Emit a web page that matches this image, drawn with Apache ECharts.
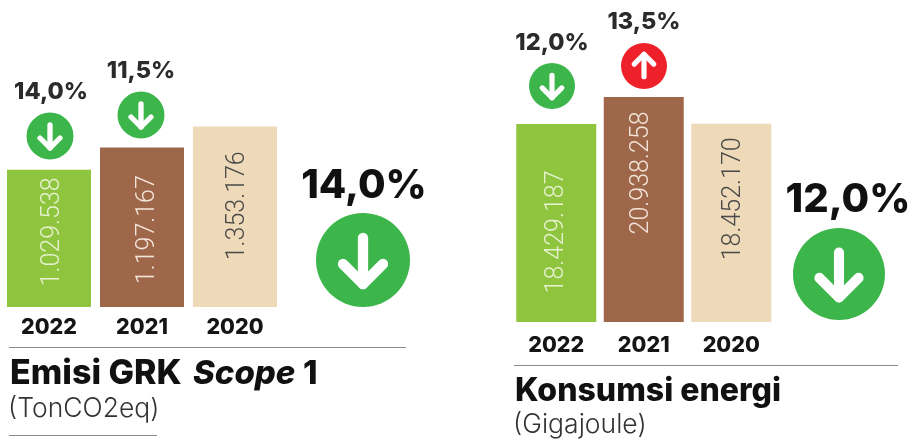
<!DOCTYPE html>
<html><head><meta charset="utf-8">
<style>html,body{margin:0;padding:0;background:#fff}#c{width:911px;height:443px}</style>
<script src="https://cdn.jsdelivr.net/npm/echarts@6/dist/echarts.min.js"></script>
</head><body><div id="c"></div>
<script>
const years = ['2022', '2021', '2020'];
const emisi = [1029538, 1197167, 1353176];
const energi = [18429187, 20938258, 18452170];
const emisiLabels = ['1.029.538', '1.197.167', '1.353.176'];
const energiLabels = ['18.429.187', '20.938.258', '18.452.170'];
const emisiChange = ['14,0%', '11,5%'];
const energiChange = ['12,0%', '13,5%'];
const emisiTotal = '14,0%';
const energiTotal = '12,0%';

const GREEN = '#3cb64b', RED = '#ee2029';
const barColors = ['#8fc43f', '#9f6749', '#eed9b9'];
const labelColors = ['#e6f2cf', '#f3e4da', '#4a4a48'];
const FONT = 'Inter, "Open Sans", sans-serif';

function barSeries(i, vals, texts, width, offsets) {
  return {
    type: 'bar', xAxisIndex: i, yAxisIndex: i, barWidth: width, silent: true,
    data: vals.map((v, k) => ({
      value: v,
      itemStyle: { color: barColors[k] },
      label: {
        show: true, position: 'inside', rotate: 90, offset: offsets[k],
        formatter: texts[k], color: labelColors[k],
        fontFamily: 'Roboto, sans-serif', fontWeight: 300, fontSize: 25
      }
    }))
  };
}
function axisX(i, margin) {
  return {
    type: 'category', gridIndex: i, data: years,
    axisLine: { show: false }, axisTick: { show: false },
    axisLabel: { color: '#151515', fontFamily: FONT, fontWeight: 800, fontSize: 21.5, margin: margin }
  };
}
function axisY(i, max) {
  return { type: 'value', gridIndex: i, min: 0, max: max, show: false, splitLine: { show: false } };
}
function icon(cx, cy, r, up, color) {
  const s = r / 47;
  const d = up ? -1 : 1;
  const st = { stroke: '#fff', lineWidth: 10 * s + 0.3, lineCap: 'round', lineJoin: 'round', fill: null };
  return [
    { type: 'circle', shape: { cx, cy, r }, style: { fill: color } },
    { type: 'line', shape: { x1: cx, y1: cy - d * 22 * s, x2: cx, y2: cy + d * 24 * s }, style: st },
    { type: 'polyline', shape: { points: [[cx - 20 * s, cy + d * 4 * s], [cx, cy + d * 24 * s], [cx + 20 * s, cy + d * 4 * s]] }, style: st }
  ];
}
function txt(x, y, text, size, weight, color, align, italic) {
  return { type: 'text', x, y, style: {
    text, fontSize: size, fontWeight: weight, fontStyle: italic ? 'italic' : 'normal', fontFamily: FONT, fill: color,
    align: align || 'center', verticalAlign: 'middle' } };
}
function rule(x1, x2, y) {
  return { type: 'line', shape: { x1, y1: y + 0.5, x2, y2: y + 0.5 }, style: { stroke: '#8a8a8a', lineWidth: 1 } };
}

const graphics = [
  txt(51, 92, emisiChange[0], 23.5, 800, '#2b2b2b'),
  txt(141, 71, emisiChange[1], 23.5, 800, '#2b2b2b'),
  ...icon(50, 136, 23.5, false, GREEN),
  ...icon(141, 115, 23.5, false, GREEN),
  txt(364, 186, emisiTotal, 40, 800, '#111'),
  ...icon(363, 260, 47, false, GREEN),
  rule(9, 406, 347), rule(9, 157, 435),
  txt(10, 374, 'Emisi GRK', 34, 800, '#111', 'left'),
  txt(193, 374, 'Scope', 33, 800, '#111', 'left', true),
  txt(303, 374, '1', 33, 800, '#111', 'left'),
  txt(8, 409, '(TonCO2eq)', 26.5, 300, '#333', 'left'),

  txt(552, 43, energiChange[0], 23.5, 800, '#2b2b2b'),
  txt(644, 22, energiChange[1], 23.5, 800, '#2b2b2b'),
  ...icon(552, 86, 23, false, GREEN),
  ...icon(644, 66, 23, true, RED),
  txt(848, 200, energiTotal, 40, 800, '#111'),
  ...icon(839, 274, 46, false, GREEN),
  rule(514, 898, 365),
  txt(515, 391, 'Konsumsi energi', 32, 800, '#111', 'left'),
  txt(513, 425, '(Gigajoule)', 26.5, 300, '#333', 'left')
];

const chart = echarts.init(document.getElementById('c'), null, { renderer: 'canvas' });
chart.setOption({
  animation: false,
  backgroundColor: '#fff',
  grid: [
    { left: 2.5, width: 279, top: 107, height: 200 },
    { left: 512.5, width: 262.5, top: 64, height: 258 }
  ],
  xAxis: [axisX(0, 10), axisX(1, 13)],
  yAxis: [axisY(0, 1500000), axisY(1, 24000000)],
  series: [
    barSeries(0, emisi, emisiLabels, 84, [[6.5, 4], [-2.5, 6], [11, 3]]),
    barSeries(1, energi, energiLabels, 80, [[-9, 0], [36.5, -2], [24, 2]])
  ],
  graphic: graphics
});
</script></body></html>
